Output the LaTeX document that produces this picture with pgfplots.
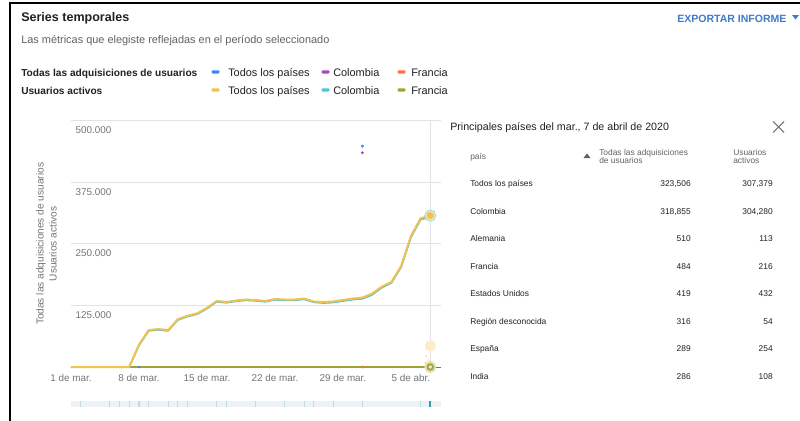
\documentclass[border=0pt]{standalone}
\usepackage{fontspec}
\setmainfont{Liberation Sans}
\usepackage{pgfplots}
\pgfplotsset{compat=1.18}

\definecolor{titlegray}{HTML}{202124}
\definecolor{textgray}{HTML}{5F6368}
\definecolor{tickgray}{HTML}{757575}
\definecolor{gridgray}{HTML}{E3E3E3}
\definecolor{cblue}{HTML}{4285F4}
\definecolor{cpurple}{HTML}{AB47BC}
\definecolor{corange}{HTML}{FF7043}
\definecolor{cyellow}{HTML}{F2C14E}
\definecolor{ccyan}{HTML}{4FC3D7}
\definecolor{colive}{HTML}{A2A232}
\definecolor{linkblue}{HTML}{3D7CC9}
\definecolor{sliderbg}{HTML}{EDF2F5}
\definecolor{slidertick}{HTML}{BADCE6}
\definecolor{sliderdark}{HTML}{2A9DB3}

\begin{document}
\begin{tikzpicture}
\begin{scope}[x=0.75pt,y=-0.75pt]
\path[use as bounding box, fill=white] (0,0) rectangle (800,421);
% frame
\draw[black, line width=1.8pt] (10,421) -- (10,3) -- (800,3);

% header
\node[anchor=base west, inner sep=0, text=titlegray, font=\bfseries\fontsize{9.4}{11}\selectfont] at (21,21.7) {Series temporales};
\node[anchor=base west, inner sep=0, text=textgray, font=\fontsize{8.2}{10}\selectfont] at (21,43.3) {Las métricas que elegiste reflejadas en el período seleccionado};
\node[anchor=base west, inner sep=0, text=linkblue, font=\bfseries\fontsize{7.9}{10}\selectfont] at (677,22.7) {EXPORTAR INFORME};
\fill[linkblue] (792,15) -- (799,15) -- (795.5,19.5) -- cycle;

% legend
\begin{scope}[font=\fontsize{8.2}{10}\selectfont]
\node[anchor=base west, inner sep=0, text=titlegray, font=\bfseries\fontsize{7.6}{10}\selectfont] at (21,76) {Todas las adquisiciones de usuarios};
\node[anchor=base west, inner sep=0, text=titlegray, font=\bfseries\fontsize{7.6}{10}\selectfont] at (21,94) {Usuarios activos};
\fill[cblue, rounded corners=0.8pt] (211.5,70.3) rectangle (219.5,73.5);
\fill[cpurple, rounded corners=0.8pt] (321.5,70.3) rectangle (329.5,73.5);
\fill[corange, rounded corners=0.8pt] (397.5,70.3) rectangle (405.5,73.5);
\fill[cyellow, rounded corners=0.8pt] (211.5,88.3) rectangle (219.5,91.5);
\fill[ccyan, rounded corners=0.8pt] (321.5,88.3) rectangle (329.5,91.5);
\fill[colive, rounded corners=0.8pt] (397.5,88.3) rectangle (405.5,91.5);
\node[anchor=base west, inner sep=0, text=titlegray] at (228,76) {Todos los países};
\node[anchor=base west, inner sep=0, text=titlegray] at (333,76) {Colombia};
\node[anchor=base west, inner sep=0, text=titlegray] at (411,76) {Francia};
\node[anchor=base west, inner sep=0, text=titlegray] at (228,94) {Todos los países};
\node[anchor=base west, inner sep=0, text=titlegray] at (333,94) {Colombia};
\node[anchor=base west, inner sep=0, text=titlegray] at (411,94) {Francia};
\end{scope}

% table panel
\begin{scope}[font=\fontsize{6.3}{7.5}\selectfont, text=textgray]
\node[anchor=base west, inner sep=0, text=titlegray, font=\fontsize{8}{10}\selectfont] at (450,130) {Principales países del mar., 7 de abril de 2020};
\draw[tickgray, line width=0.8pt] (773,121.5) -- (784,132.5) (773,132.5) -- (784,121.5);
\node[anchor=base west, inner sep=0] at (470,159) {país};
\fill[textgray] (583.5,158) -- (590.5,158) -- (587,153.5) -- cycle;
\node[anchor=base west, inner sep=0] at (599,155) {Todas las adquisiciones};
\node[anchor=base west, inner sep=0] at (599,163.3) {de usuarios};
\node[anchor=base west, inner sep=0] at (733,155) {Usuarios};
\node[anchor=base west, inner sep=0] at (733,163.3) {activos};
\foreach \name/\a/\b [count=\i from 0] in {
    Todos los países/323{,}506/307{,}379,
    Colombia/318{,}855/304{,}280,
    Alemania/510/113,
    Francia/484/216,
    Estados Unidos/419/432,
    Región desconocida/316/54,
    España/289/254,
    India/286/108} {
  \node[anchor=base west, inner sep=0, text=titlegray] at (470,186.7+27.5*\i) {\name};
  \node[anchor=base east, inner sep=0, text=titlegray] at (691,186.7+27.5*\i) {\a};
  \node[anchor=base east, inner sep=0, text=titlegray] at (773,186.7+27.5*\i) {\b};
}
\end{scope}
\end{scope}

% main chart (pixel (71,367) -> pt)
\begin{axis}[
    at={(53.25pt,-275.25pt)}, anchor=south west,
    scale only axis,
    width=277.5pt, height=184.7pt,
    xmin=0, xmax=38.1,
    ymin=0, ymax=500000,
    scaled y ticks=false,
    axis line style={draw=none},
    tick style={draw=none},
    ytick={125000,250000,375000,500000},
    yticklabels={125.000,250.000,375.000,500.000},
    ymajorgrids,
    grid style={gridgray, line width=0.6pt},
    extra y ticks={0},
    extra y tick labels={},
    extra y tick style={grid style={black!55, line width=0.6pt}},
    xtick={0,7,14,21,28,35},
    xticklabels={1 de mar., 8 de mar., 15 de mar., 22 de mar., 29 de mar., 5 de abr.},
    tick label style={font=\fontsize{7.4}{9}\selectfont, text=tickgray},
    yticklabel style={anchor=north west, xshift=0pt, yshift=-1pt},
    xticklabel style={yshift=-2pt},
    ylabel={Todas las adquisiciones de usuarios\\Usuarios activos},
    ylabel style={at={(axis description cs:-0.026,0.5)}, anchor=south, align=center,
        font=\fontsize{7.6}{9.8}\selectfont, text=tickgray},
    clip=false,
]
% hover line
\draw[gridgray, line width=0.8pt] (axis cs:37,-10000) -- (axis cs:37,500000);

% Usuarios activos, Francia
\addplot[colive, line width=1.4pt] coordinates {(0,0) (37,0)};
% Usuarios activos, Colombia
\addplot[ccyan, line width=1.3pt] coordinates {
    (0,0) (1,0) (2,0) (3,0) (4,0) (5,0) (6,0) (7,44000) (8,73500) (9,75500)
    (10,73500) (11,95500) (12,102500) (13,107500) (14,118500) (15,132500) (16,130500) (17,133500) (18,135500) (19,134500)
    (20,132500) (21,136500) (22,135500) (23,135500) (24,137500) (25,131500) (26,130000) (27,131000) (28,134000) (29,137000)
    (30,138500) (31,146500) (32,161000) (33,171000) (34,203000) (35,263000) (36,299500) (37,304280)
};
% Usuarios activos, Todos los paises
\addplot[cyellow, line width=1.5pt] coordinates {
    (0,0) (1,0) (2,0) (3,0) (4,0) (5,0) (6,0) (7,45000) (8,75000) (9,77000)
    (10,75000) (11,97000) (12,104000) (13,109000) (14,120000) (15,134000) (16,132000) (17,135000) (18,137000) (19,136000)
    (20,134000) (21,138000) (22,137000) (23,137000) (24,139000) (25,133000) (26,132000) (27,133000) (28,136000) (29,139000)
    (30,141000) (31,149000) (32,163000) (33,173000) (34,205000) (35,266000) (36,302000) (37,307379)
};
% Todas las adquisiciones (isolated points)
\addplot[only marks, mark=*, mark size=0.9pt, cblue, mark options={draw=cblue, fill=cblue}] coordinates {(30,448500)};
\addplot[only marks, mark=*, mark size=0.9pt, cpurple, mark options={draw=cpurple, fill=cpurple}] coordinates {(30,435000)};
\addplot[only marks, mark=*, mark size=0.9pt, corange, mark options={draw=corange, fill=corange}] coordinates {(30,0)};
\addplot[only marks, mark=*, mark size=0.8pt, cblue, mark options={draw=cblue, fill=cblue}] coordinates {(7,0)};

% hover markers
\addplot[only marks, mark=*, mark size=4.2pt, mark options={draw=ccyan!60, fill=cyellow!35, line width=0.6pt}] coordinates {(37,307379)};
\addplot[only marks, mark=*, mark size=2.5pt, mark options={draw=cyellow, fill=cyellow}] coordinates {(37,307379)};
\addplot[only marks, mark=*, mark size=4pt, mark options={draw=cyellow!30, fill=cyellow!30}] coordinates {(37,43000)};
\addplot[only marks, mark=*, mark size=0.6pt, mark options={draw=cyellow!50, fill=cyellow!50}] coordinates {(36.6,22000) (36.8,14000) (36.5,9000)};
\addplot[only marks, mark=*, mark size=4.2pt, mark options={draw=colive!40, fill=colive!30}] coordinates {(37,0)};
\addplot[only marks, mark=*, mark size=2.6pt, mark options={draw=colive, fill=colive}] coordinates {(37,0)};
\addplot[only marks, mark=*, mark size=1.2pt, mark options={draw=cyellow!40, fill=cyellow!40}] coordinates {(37,0)};
\end{axis}

% range slider (pixel (71,407) -> pt)
\begin{axis}[
    at={(53.25pt,-305.25pt)}, anchor=south west,
    scale only axis,
    width=277.5pt, height=4.5pt,
    xmin=0, xmax=38.1, ymin=0, ymax=1,
    hide axis, clip=false,
]
\fill[sliderbg] (axis cs:0,0) rectangle (axis cs:38.1,1);
\addplot[ycomb, slidertick, line width=0.8pt, mark=none] coordinates {
    (1,1) (4,1) (5,1) (6,1) (7,1) (8,1) (10,1) (11,1) (12,1) (15,1) (16,1)
    (19,1) (22,1) (24,1) (25,1) (27,1) (30,1) (36,1)
};
\addplot[ycomb, sliderdark, line width=1.6pt, mark=none] coordinates {(37,1)};
\end{axis}
\end{tikzpicture}
\end{document}
